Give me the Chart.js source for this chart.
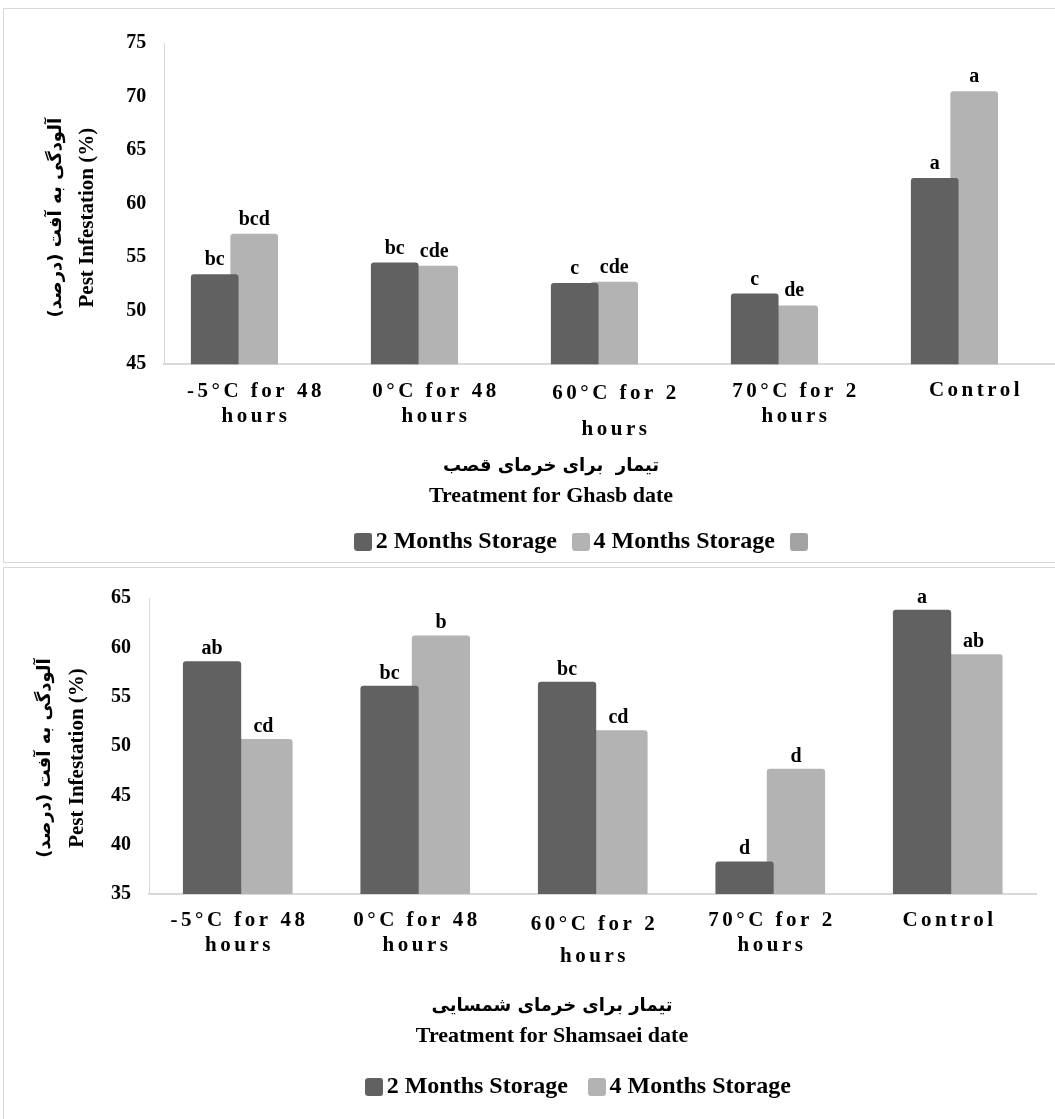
<!DOCTYPE html>
<html>
<head>
<meta charset="utf-8">
<script src="https://cdn.jsdelivr.net/npm/chart.js@4.4.1/dist/chart.umd.min.js"></script>
<style>
  html, body { margin: 0; padding: 0; background: #fff; overflow: hidden; width: 1055px; height: 1119px; }
  .panel { position: absolute; left: 3px; width: 1094px; border: 1px solid #d9d9d9; overflow: hidden; background: #fff; }
  #p1 { top: 8px; height: 553px; }
  #p2 { top: 567px; height: 600px; }
  canvas { display: block; }
</style>
</head>
<body>
<div class="panel" id="p1"><canvas id="c1" width="1094" height="556"></canvas></div>
<div class="panel" id="p2"><canvas id="c2" width="1094" height="556"></canvas></div>
<script>
// Treatments (two-line tick labels)
const categories = [['-5°C for 48', 'hours'], ['0°C for 48', 'hours'], ['60°C for 2', 'hours'], ['70°C for 2', 'hours'], ['Control']];
const seriesNames = ['2 Months Storage', '4 Months Storage', ''];

// Ghasb date – pest infestation (%)
const ghasb2m = [53.4, 54.5, 52.6, 51.6, 62.4];
const ghasb4m = [57.2, 54.2, 52.7, 50.5, 70.5];
const ghasbExtra = [null, null, null, null, null];
const ghasb2mLetters = ['bc', 'bc', 'c', 'c', 'a'];
const ghasb4mLetters = ['bcd', 'cde', 'cde', 'de', 'a'];
const ghasbTicks = [45, 50, 55, 60, 65, 70, 75];

// Shamsaei date – pest infestation (%)
const shamsaei2m = [58.6, 56.1, 56.5, 38.3, 63.8];
const shamsaei4m = [50.7, 61.2, 51.6, 47.7, 59.3];
const shamsaei2mLetters = ['ab', 'bc', 'bc', 'd', 'a'];
const shamsaei4mLetters = ['cd', 'b', 'cd', 'd', 'ab'];
const shamsaeiTicks = [35, 40, 45, 50, 55, 60, 65];

const yTitle = ['\u200Fآلودگی به آفت (درصد)\u200F', 'Pest Infestation (%)'];
const ghasbTitle = ['تیمار  برای خرمای قصب', 'Treatment for Ghasb date'];
const shamsaeiTitle = ['تیمار برای خرمای شمسایی', 'Treatment for Shamsaei date'];

const FAMILY = '"Liberation Serif", "Times New Roman", serif';
const FA_FAMILY = '"DejaVu Sans", sans-serif';
const DARK = '#616161', LIGHT = '#b3b3b3', EXTRA = '#a3a3a3';

// Small rounded square used as the legend swatch
function swatch(color) {
  const c = document.createElement('canvas');
  c.width = 18; c.height = 18;
  const g = c.getContext('2d');
  g.fillStyle = color;
  g.beginPath();
  g.roundRect(0, 0, 18, 18, 3);
  g.fill();
  return c;
}

// Category labels under the x axis, drawn with wide letter spacing
const categoryLabels = {
  id: 'categoryLabels',
  afterDraw(chart, args, opts) {
    const ctx = chart.ctx, xs = chart.scales.x, base = chart.chartArea.bottom;
    ctx.save();
    ctx.font = 'bold ' + opts.size + 'px ' + FAMILY;
    ctx.fillStyle = '#000';
    ctx.textAlign = 'center';
    ctx.textBaseline = 'middle';
    ctx.letterSpacing = opts.spacing + 'px';
    chart.data.labels.forEach((lines, i) => {
      const offs = opts.offsets[i];
      const px = xs.getPixelForValue(i) + opts.spacing / 2;
      [].concat(lines).forEach((t, k) => ctx.fillText(t, px, base + offs[k]));
    });
    ctx.restore();
  }
};

// Two-line rotated y-axis title (Persian + English)
const axisTitle = {
  id: 'axisTitle',
  afterDraw(chart, args, opts) {
    const ctx = chart.ctx, a = chart.chartArea;
    const cy = (a.top + a.bottom) / 2 + opts.dy;
    ctx.save();
    ctx.fillStyle = '#000';
    ctx.textAlign = 'center';
    ctx.textBaseline = 'middle';
    yTitle.forEach((t, k) => {
      ctx.save();
      ctx.translate(opts.x[k], cy);
      ctx.rotate(-Math.PI / 2);
      ctx.font = k === 0 ? 'bold 18px ' + FA_FAMILY : 'bold 21px ' + FAMILY;
      ctx.fillText(t, 0, 0);
      ctx.restore();
    });
    ctx.restore();
  }
};

// Horizontal nudge of the legend row after layout
const legendShift = {
  id: 'legendShift',
  afterLayout(chart, args, opts) {
    const lg = chart.legend;
    if (lg) { lg.left += opts.dx; lg.right += opts.dx; }
  }
};

// Significance letters above each bar
const barLetters = {
  id: 'barLetters',
  afterDatasetsDraw(chart, args, opts) {
    const ctx = chart.ctx;
    ctx.save();
    ctx.font = 'bold 20px ' + FAMILY;
    ctx.fillStyle = '#000';
    ctx.textAlign = 'center';
    ctx.textBaseline = 'alphabetic';
    opts.letters.forEach((arr, di) => {
      const meta = chart.getDatasetMeta(di);
      arr.forEach((t, j) => {
        const el = meta.data[j];
        if (t && el) ctx.fillText(t, el.x, el.y - opts.gap);
      });
    });
    ctx.restore();
  }
};

function makeChart(id, cfg) {
  const ticks = cfg.ticks;
  return new Chart(document.getElementById(id), {
    type: 'bar',
    data: { labels: categories, datasets: cfg.datasets },
    options: {
      responsive: false,
      animation: false,
      devicePixelRatio: 1,
      events: [],
      layout: { padding: cfg.padding },
      datasets: {
        bar: {
          categoryPercentage: cfg.catPct,
          barPercentage: cfg.barPct,
          borderRadius: 3,
          borderSkipped: 'start',
          borderWidth: 0
        }
      },
      scales: {
        x: {
          grid: { display: false, drawTicks: false },
          border: { color: '#d9d9d9', width: 2 },
          ticks: { display: false },
          afterFit(s) { s.height = cfg.xHeight; }
        },
        y: {
          min: ticks[0],
          max: ticks[ticks.length - 1],
          ticks: { stepSize: ticks[1] - ticks[0], padding: 18, color: '#000', font: { family: FAMILY, size: 20, weight: 'bold' } },
          grid: { display: false, drawTicks: false },
          border: { color: '#d9d9d9', width: 1 },
          afterFit(s) { s.width = cfg.yWidth; }
        }
      },
      plugins: {
        tooltip: { enabled: false },
        title: {
          display: true,
          position: 'bottom',
          weight: 400,
          text: cfg.title[0],
          color: '#000',
          font: { family: FA_FAMILY, size: 18, weight: 'bold', lineHeight: '30px' },
          padding: { top: cfg.titlePad.top, bottom: 0 }
        },
        subtitle: {
          display: true,
          position: 'bottom',
          weight: 450,
          text: cfg.title[1],
          color: '#000',
          font: { family: FAMILY, size: 22, weight: 'bold', lineHeight: '30px' },
          padding: { top: 0, bottom: cfg.titlePad.bottom }
        },
        legend: {
          position: 'bottom',
          fullSize: false,
          labels: {
            color: '#000',
            font: { family: FAMILY, size: 24, weight: 'bold' },
            usePointStyle: true,
            pointStyleWidth: 1,
            boxHeight: 18,
            padding: cfg.legendPad
          }
        },
        legendShift: { dx: cfg.legendDx },
        categoryLabels: { size: 21, spacing: 3.5, offsets: cfg.labelOffsets },
        axisTitle: { x: cfg.yTitleX, dy: cfg.yTitleDy },
        barLetters: { letters: cfg.letters, gap: cfg.letterGap }
      }
    },
    plugins: [legendShift, categoryLabels, axisTitle, barLetters]
  });
}

makeChart('c1', {
  datasets: [
    { label: seriesNames[0], data: ghasb2m, backgroundColor: DARK, pointStyle: swatch(DARK) },
    { label: seriesNames[1], data: ghasb4m, backgroundColor: LIGHT, pointStyle: swatch(LIGHT) },
    { label: seriesNames[2], data: ghasbExtra, backgroundColor: EXTRA, pointStyle: swatch(EXTRA) }
  ],
  letters: [ghasb2mLetters, ghasb4mLetters],
  ticks: ghasbTicks,
  title: ghasbTitle,
  padding: { left: 33.8, right: 33.8, top: 34, bottom: 1.3 },
  yWidth: 126.4,
  yTitleX: [52.7, 84],
  yTitleDy: 14,
  xHeight: 81.4,
  titlePad: { top: 6, bottom: -5.5 },
  legendPad: 23.5,
  legendDx: -27.2,
  catPct: 0.658,
  barPct: 1.207,
  letterGap: 9,
  labelOffsets: [[27.4, 52.4], [27.4, 52.4], [29.2, 65.7], [27.4, 52.4], [26.5]]
});

makeChart('c2', {
  datasets: [
    { label: seriesNames[0], data: shamsaei2m, backgroundColor: DARK, pointStyle: swatch(DARK) },
    { label: seriesNames[1], data: shamsaei4m, backgroundColor: LIGHT, pointStyle: swatch(LIGHT) }
  ],
  letters: [shamsaei2mLetters, shamsaei4mLetters],
  ticks: shamsaeiTicks,
  title: shamsaeiTitle,
  padding: { left: 63.5, right: 61.5, top: 29, bottom: 15 },
  yWidth: 81.5,
  yTitleX: [41, 73.5],
  yTitleDy: 12,
  xHeight: 89,
  titlePad: { top: 8, bottom: -4.5 },
  legendPad: 28.5,
  legendDx: -10.5,
  catPct: 0.579,
  barPct: 1.134,
  letterGap: 7,
  labelOffsets: [[27, 52], [27, 52], [31, 63], [27, 52], [27]]
});
</script>
</body>
</html>
